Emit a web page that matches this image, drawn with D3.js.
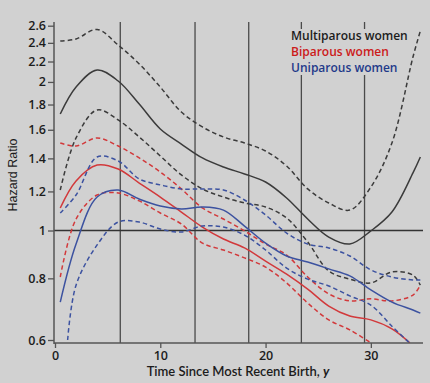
<!DOCTYPE html>
<html><head><meta charset="utf-8">
<script src="https://cdn.jsdelivr.net/npm/d3@7"></script>
<style>
html,body{margin:0;padding:0;background:#d1d1d1;}
svg{display:block;}
</style></head>
<body>
<svg id="chart" width="430" height="383"></svg>
<script>
// ---- data (hazard ratios) ----
const tFull   = [0.5,2,4,6,8,10,12,14,16,18,20,22,24,26,28,30,32,34,34.7];
const multiHR    = [1.722,1.953,2.115,2.009,1.804,1.606,1.497,1.403,1.345,1.302,1.254,1.164,1.055,0.970,0.939,0.998,1.090,1.308,1.409];
const multiUpper = [2.421,2.444,2.555,2.376,2.175,1.953,1.738,1.621,1.547,1.504,1.449,1.351,1.214,1.137,1.100,1.225,1.504,2.247,2.537];
const multiLower = [1.208,1.540,1.755,1.675,1.547,1.416,1.296,1.214,1.169,1.137,1.116,1.060,0.948,0.828,0.797,0.783,0.824,0.812,0.775];

const tBi      = [0.5,2,4,6,8,10,12,14,16,18,20,22,24,26,28,30,32,33.7];
const biHR     = [1.111,1.260,1.357,1.332,1.248,1.169,1.090,1.016,0.961,0.922,0.867,0.816,0.761,0.703,0.671,0.659,0.632,0.592];
const biUpper  = [1.504,1.483,1.540,1.483,1.403,1.314,1.214,1.111,1.055,0.998,0.939,0.892,0.805,0.744,0.720,0.727,0.720,0.740,0.775];
const tBiLow   = [0.5,2,4,6,8,10,12,14,16,18,20,22,24,26,28,30];
const biLower  = [0.805,1.055,1.180,1.191,1.148,1.085,1.031,0.943,0.913,0.880,0.843,0.783,0.713,0.659,0.629,0.592];

const uniHR    = [0.716,0.939,1.169,1.208,1.158,1.121,1.106,1.116,1.100,1.021,0.943,0.888,0.863,0.836,0.809,0.758,0.716,0.690,0.680];
const uniUpper = [1.085,1.180,1.409,1.383,1.272,1.237,1.214,1.214,1.208,1.153,1.075,0.988,0.939,0.922,0.888,0.832,0.805,0.794,0.794];
const tUniLow  = [1.2,2,4,6,8,10,12,14,16,18,20,22,24,26,28,30,32,33.6];
const uniLower = [0.600,0.775,0.935,1.040,1.040,1.007,0.993,1.021,1.016,0.979,0.913,0.839,0.797,0.772,0.737,0.706,0.640,0.594];

const refLines = [6.2,13.3,18.4,23.4,29.4];
const yTicks = [0.6,0.8,1,1.2,1.4,1.6,1.8,2,2.2,2.4,2.6];
const xTicks = [0,10,20,30];
const legendLabels = ["Multiparous women","Biparous women","Uniparous women"];

// ---- drawing ----
const svg = d3.select("#chart");
const x = d3.scaleLinear().domain([0,35]).range([55,423.5]);
const y = d3.scaleLog().domain([0.6,2.6]).range([340,25.7]);
const L = 54, R = 423, T = 22, B = 343;

const C = {black:"#3b3b3b", red:"#d2393b", blue:"#3c52a0"};
const TXT = {black:"#1c1c1c", red:"#cc1a1a", blue:"#1f3a8a"};

svg.append("rect").attr("width",430).attr("height",383).attr("fill","#d1d1d1");

svg.append("defs").append("clipPath").attr("id","clip")
  .append("rect").attr("x",L).attr("y",T).attr("width",R-L).attr("height",B-T);

// reference lines
svg.append("g").selectAll("line").data(refLines).join("line")
  .attr("x1",d=>x(d)).attr("x2",d=>x(d)).attr("y1",T).attr("y2",B)
  .attr("stroke","#4a4a4a").attr("stroke-width",1.3);
svg.append("line").attr("x1",L).attr("x2",R).attr("y1",y(1)).attr("y2",y(1))
  .attr("stroke","#333").attr("stroke-width",1.3);

// legend background (covers the reference lines)
svg.append("rect").attr("x",286).attr("y",29).attr("width",124).attr("height",46).attr("fill","#d1d1d1");

const line = (ts) => d3.line().x((d,i)=>x(ts[i])).y(d=>y(d)).curve(d3.curveCatmullRom.alpha(0.5));
const series = [
  {t:tFull, v:multiUpper, c:C.black, dash:true},
  {t:tFull, v:multiLower, c:C.black, dash:true},
  {t:tFull, v:multiHR,    c:C.black, dash:false},
  {t:tFull, v:biUpper,    c:C.red,   dash:true},
  {t:tBiLow,v:biLower,    c:C.red,   dash:true},
  {t:tBi,   v:biHR,       c:C.red,   dash:false},
  {t:tFull, v:uniUpper,   c:C.blue,  dash:true},
  {t:tUniLow,v:uniLower,  c:C.blue,  dash:true},
  {t:tFull, v:uniHR,      c:C.blue,  dash:false},
];
const g = svg.append("g").attr("clip-path","url(#clip)");
series.forEach(s=>{
  g.append("path").attr("d",line(s.t)(s.v)).attr("fill","none")
   .attr("stroke",s.c).attr("stroke-width",1.5)
   .attr("stroke-dasharray",s.dash?"4.5,3":null);
});

// axes
const yAxis = svg.append("g").attr("transform",`translate(${L},0)`)
  .call(d3.axisLeft(y).tickValues(yTicks).tickFormat(d3.format("~g")).tickSize(6).tickPadding(2));
const xAxis = svg.append("g").attr("transform",`translate(0,${B})`)
  .call(d3.axisBottom(x).tickValues(xTicks).tickFormat(d3.format("d")).tickSize(5).tickPadding(3));
[yAxis,xAxis].forEach(a=>{
  a.select(".domain").remove();
  a.selectAll(".tick line").attr("stroke","#555").attr("stroke-width",1.3);
  a.selectAll(".tick text").attr("fill","#1c1c1c")
   .style("font-family","'Open Sans', sans-serif").style("font-weight","600").style("font-size","12.5px");
});
svg.append("line").attr("x1",L).attr("x2",L).attr("y1",T).attr("y2",B+1).attr("stroke","#555").attr("stroke-width",1.5);
svg.append("line").attr("x1",L).attr("x2",R).attr("y1",B).attr("y2",B).attr("stroke","#555").attr("stroke-width",1.5);

// axis titles
svg.append("text").attr("transform","translate(17,175) rotate(-90)")
  .attr("text-anchor","middle").attr("fill","#1c1c1c")
  .style("font-family","'Liberation Sans', Arial, sans-serif").style("font-size","12.5px")
  .text("Hazard Ratio");
const xt = svg.append("text").attr("x",238).attr("y",376).attr("text-anchor","middle").attr("fill","#1c1c1c")
  .style("font-family","Lato, sans-serif").style("font-size","13px").style("font-weight","600");
xt.append("tspan").text("Time Since Most Recent Birth, ");
xt.append("tspan").style("font-style","italic").style("font-weight","700").text("y");

// legend
const legColors = [TXT.black, TXT.red, TXT.blue];
svg.append("g").selectAll("text").data(legendLabels).join("text")
  .attr("x",291).attr("y",(d,i)=>40+i*16)
  .attr("fill",(d,i)=>legColors[i])
  .style("font-family","'Open Sans', sans-serif").style("font-weight","600").style("font-size","12px")
  .text(d=>d);
</script>
</body></html>
